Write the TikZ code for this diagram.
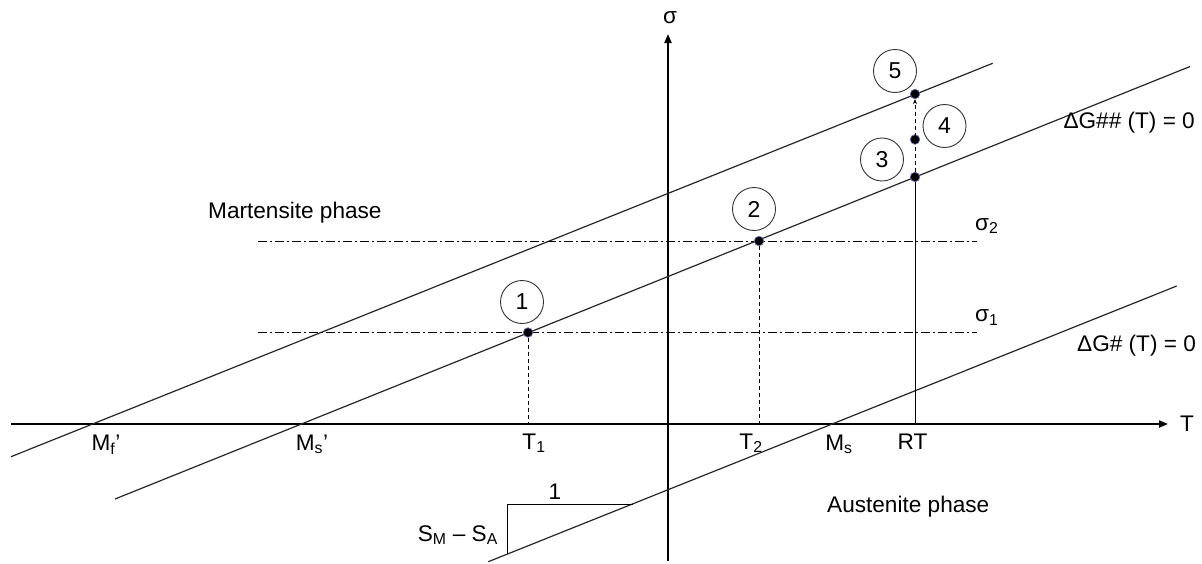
\documentclass[tikz,border=0pt]{standalone}
\usepackage{fontspec}
\setmainfont{Liberation Sans}
\usetikzlibrary{arrows.meta}
\newcommand{\prm}{{\char"27}}
\begin{document}
\begin{tikzpicture}[x=1pt,y=-1pt,
  lbl/.style={inner sep=0pt, font=\fontsize{22.6}{26}\selectfont},
  num/.style={circle, draw=black!80, line width=0.9pt, minimum size=43pt, inner sep=0pt, font=\fontsize{23}{26}\selectfont},
  dotnode/.style={circle, fill=black, draw=black!50!blue!60, line width=0.7pt, minimum size=9.5pt, inner sep=0pt},
  axisline/.style={line width=2pt, -{Triangle[length=9pt,width=7pt]}},
  phaseline/.style={line width=1.2pt, black!85},
  dashdotline/.style={line width=0.9pt, dash pattern=on 9pt off 3pt on 2pt off 3pt},
  dropline/.style={line width=0.9pt, dash pattern=on 4pt off 3pt}]
\useasboundingbox (0,0) rectangle (1202,563);

% axes
\coordinate (Tstart) at (11,424);
\coordinate (Tend) at (1168,424);
\coordinate (Sbot) at (668,561);
\coordinate (Stop) at (668,34);
\draw[axisline] (Tstart) -- (Tend);
\draw[axisline] (Sbot) -- (Stop);

% phase boundary lines
\coordinate (uA) at (11,456.7);
\coordinate (uB) at (992.7,63.3);
\coordinate (mA) at (115,499);
\coordinate (mB) at (1190,66.5);
\coordinate (lA) at (488.3,561.7);
\coordinate (lB) at (1176.7,286);
\draw[phaseline] (uA) -- (uB);
\draw[phaseline] (mA) -- (mB);
\draw[phaseline] (lA) -- (lB);

% stress levels
\coordinate (s2a) at (258,241);
\coordinate (s2b) at (977,241);
\coordinate (s1a) at (258,332);
\coordinate (s1b) at (977,332);
\draw[dashdotline] (s2a) -- (s2b);
\draw[dashdotline] (s1a) -- (s1b);

% slope triangle
\coordinate (trA) at (507,554);
\coordinate (trB) at (507,504);
\coordinate (trC) at (633,504);
\draw[line width=0.9pt] (trA) -- (trB) -- (trC);

% points
\node[dotnode] (p1) at (528,332.5) {};
\node[dotnode] (p2) at (759,241) {};
\node[dotnode] (p3) at (915,177) {};
\node[dotnode] (p4) at (915,139.5) {};
\node[dotnode] (p5) at (915,94) {};

\coordinate (x1) at (528,424);
\coordinate (x2) at (759,424);
\coordinate (xRT) at (915,424);
\draw[dropline] (p1) -- (x1);
\draw[dropline] (p2) -- (x2);
\draw[line width=0.9pt] (xRT) -- (p3);
\draw[dropline, -{Stealth[length=5pt,width=4pt]}] (p3) -- (p5);

% numbered circles
\node[num] (c1) at (522,302) {1};
\node[num] (c2) at (754,209) {2};
\node[num] (c3) at (882,159.5) {3};
\node[num] (c4) at (944.5,126) {4};
\node[num] (c5) at (895,71) {5};

% axis labels
\node[lbl, anchor=base] (sig) at (670,23) {σ};
\node[lbl, anchor=base] (Tlab) at (1187,431.5) {T};
\node[lbl, anchor=base] (Mf) at (106,450) {M\textsubscript{f}\prm};
\node[lbl, anchor=base] (Ms2) at (312,450) {M\textsubscript{s}\prm};
\node[lbl, anchor=base] (T1) at (534,449) {T\textsubscript{1}};
\node[lbl, anchor=base] (T2) at (751,449) {T\textsubscript{2}};
\node[lbl, anchor=base] (Ms) at (839,450) {M\textsubscript{s}};
\node[lbl, anchor=base] (RT) at (912.5,449) {RT};

% other labels
\node[lbl, anchor=base west] (mart) at (208,218) {Martensite phase};
\node[lbl, anchor=base west] (aust) at (827,512) {Austenite phase};
\node[lbl, anchor=base east] (dg2) at (1195,128.5) {ΔG\#\# (T) = 0};
\node[lbl, anchor=base west] (dg1) at (1077,351) {ΔG\# (T) = 0};
\node[lbl, anchor=base west] (sg2) at (975,230) {σ\textsubscript{2}};
\node[lbl, anchor=base west] (sg1) at (975,321.5) {σ\textsubscript{1}};
\node[lbl, anchor=base] (one) at (555,499) {1};
\node[lbl, anchor=base east] (dS) at (498,541) {S\textsubscript{M} – S\textsubscript{A}};
\end{tikzpicture}
\end{document}
